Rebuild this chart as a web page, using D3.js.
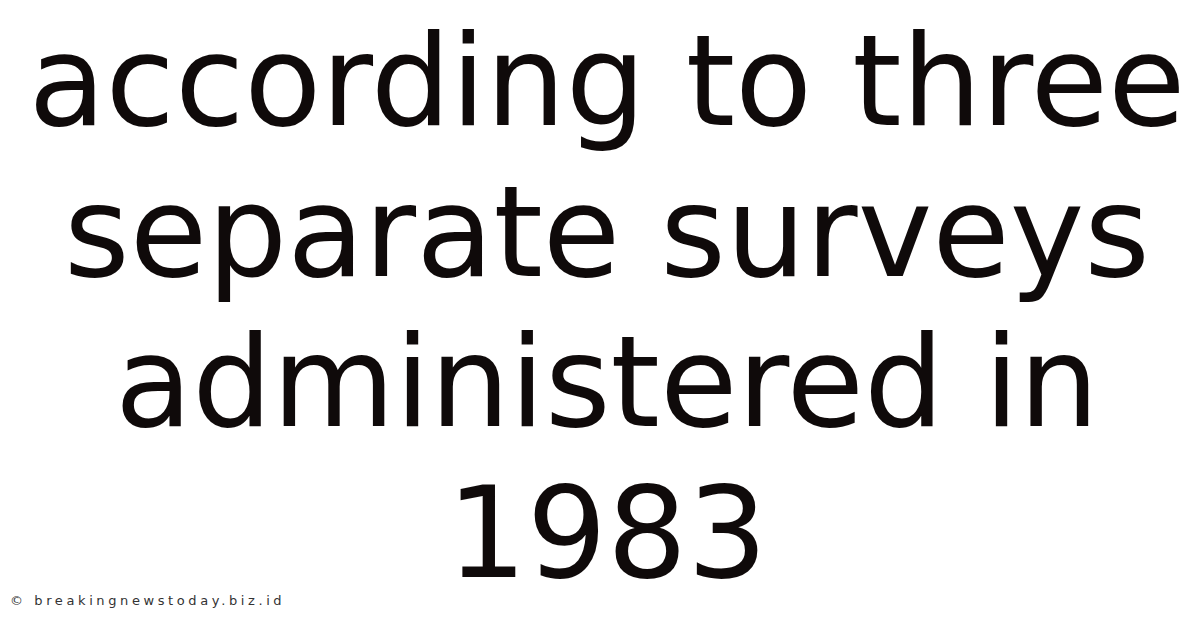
<!DOCTYPE html>
<html><head><meta charset="utf-8">
<script src="https://cdn.jsdelivr.net/npm/d3@7"></script>
<style>html,body{margin:0;padding:0;background:#fff;}svg{display:block;}</style>
</head><body>
<script>
const titleLines = ["according to three", "separate surveys", "administered in", "1983"];
const watermark = "© breakingnewstoday.biz.id";

const W = 1200, H = 628;
const svg = d3.select("body").append("svg").attr("width", W).attr("height", H);
svg.append("rect").attr("width", W).attr("height", H).attr("fill", "#fff");

const y = d3.scalePoint().domain(d3.range(titleLines.length)).range([125, 577]);

svg.selectAll("text.t").data(titleLines).join("text")
  .attr("class", "t")
  .attr("x", 607)
  .attr("y", (d, i) => y(i))
  .attr("text-anchor", "middle")
  .attr("font-family", "DejaVu Sans")
  .attr("font-size", 126)
  .attr("fill", "#0f0a0a")
  .text(d => d);

svg.append("text")
  .attr("x", 10).attr("y", 605)
  .attr("font-family", "DejaVu Sans")
  .attr("font-size", 13)
  .attr("letter-spacing", 3.6)
  .attr("fill", "#333")
  .text(watermark);
</script>
</body></html>
